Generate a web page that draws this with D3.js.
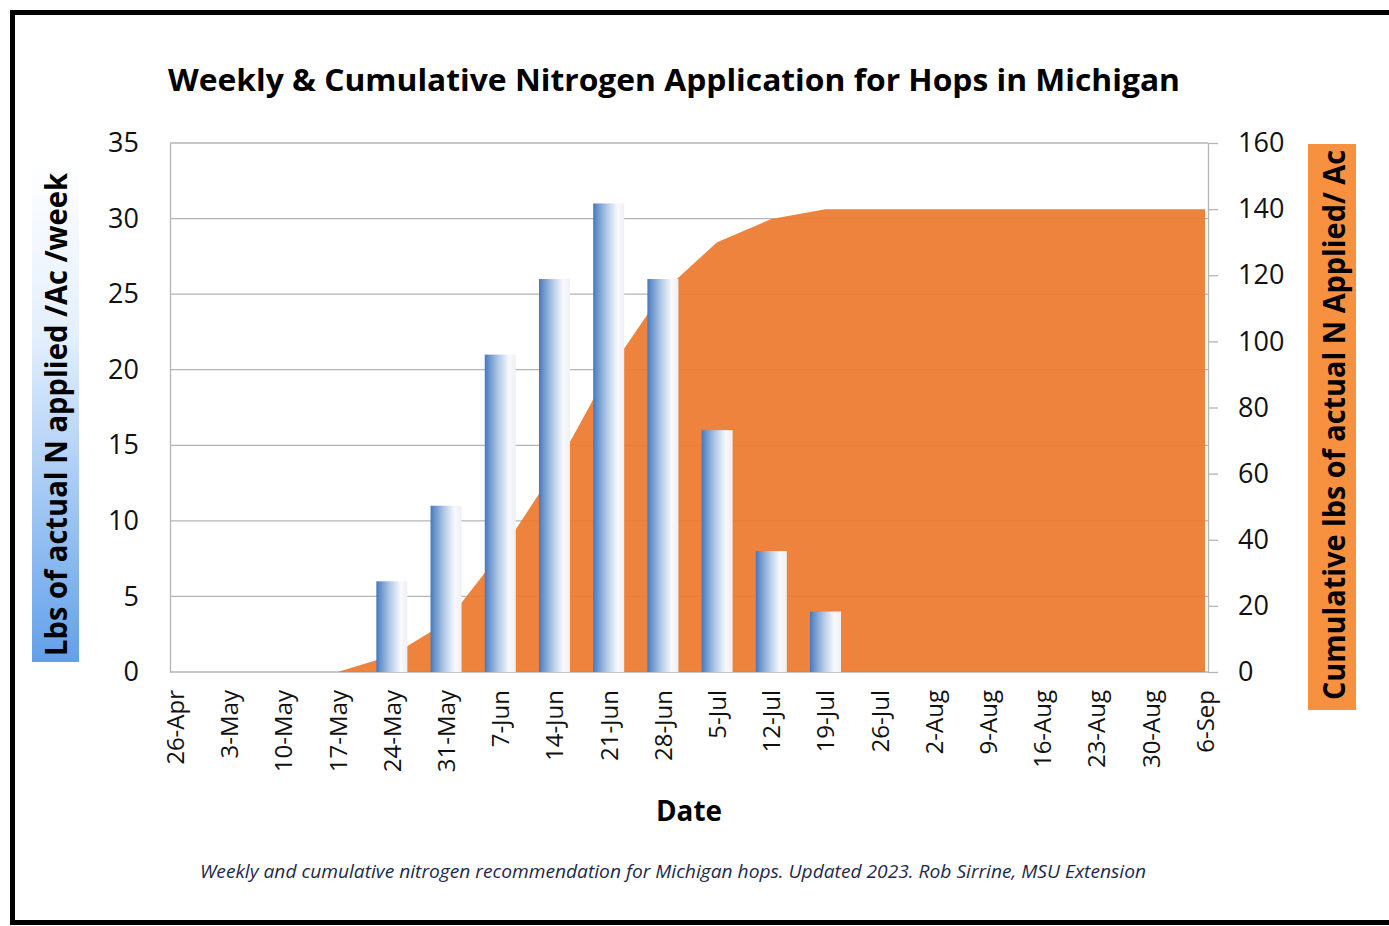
<!DOCTYPE html>
<html>
<head>
<meta charset="utf-8">
<script src="https://cdn.jsdelivr.net/npm/d3@7"></script>
<style>
  body { margin: 0; background: #fff; }
  text { font-family: "Open Sans", "DejaVu Sans", sans-serif; }
</style>
</head>
<body>
<svg id="chart" width="1389" height="926"></svg>
<script>
// weeks on the category axis
const weeks = ['26-Apr', '3-May', '10-May', '17-May', '24-May', '31-May', '7-Jun', '14-Jun',
    '21-Jun', '28-Jun', '5-Jul', '12-Jul', '19-Jul', '26-Jul', '2-Aug', '9-Aug',
    '16-Aug', '23-Aug', '30-Aug', '6-Sep'];
// lbs N / acre / week (bars, left axis)
const weeklyN = [0, 0, 0, 0, 6, 11, 21, 26, 31, 26, 16, 8, 4, 0, 0, 0, 0, 0, 0, 0];
// cumulative lbs N / acre (area, right axis)
const cumulativeN = [0, 0, 0, 0, 5, 15, 36, 61, 91, 115, 130, 137, 140, 140, 140, 140, 140, 140, 140, 140];
const leftTicks = [0, 5, 10, 15, 20, 25, 30, 35];
const rightTicks = [0, 20, 40, 60, 80, 100, 120, 140, 160];

const svg = d3.select('#chart');
const plot = {left: 170, right: 1208, top: 143, bottom: 672};

const x = d3.scalePoint().domain(weeks).range([175, 1205]);
const yL = d3.scaleLinear().domain([0, 35]).range([plot.bottom, plot.top]);
const yR = d3.scaleLinear().domain([0, 160]).range([plot.bottom, plot.top]);
const barW = 31;

// stretch a text to the width it has in the picture
function fit(sel, len) {
    sel.attr('textLength', len).attr('lengthAdjust', 'spacingAndGlyphs');
}

const defs = svg.append('defs');
const barGrad = defs.append('linearGradient').attr('id', 'barGrad')
    .attr('x1', 0).attr('x2', 1).attr('y1', 0).attr('y2', 0);
[[0, '#4677bb'], [0.12, '#6590cb'], [0.45, '#b4cbe8'], [0.78, '#f7f9fd'], [1, '#eef0f3']]
    .forEach(s => barGrad.append('stop').attr('offset', s[0]).attr('stop-color', s[1]));
const leftGrad = defs.append('linearGradient').attr('id', 'leftGrad')
    .attr('x1', 0).attr('x2', 0).attr('y1', 0).attr('y2', 1);
[[0, '#ffffff'], [0.35, '#e3effd'], [1, '#62a0ea']]
    .forEach(s => leftGrad.append('stop').attr('offset', s[0]).attr('stop-color', s[1]));

//Frame round the picture.
svg.append('rect')
    .attr('x', 12.5).attr('y', 12.5).attr('width', 1400).attr('height', 910)
    .attr('fill', 'none').attr('stroke', '#000').attr('stroke-width', 5);

//Gridlines from the left axis.
svg.append('g').selectAll('line')
    .data(leftTicks)
    .join('line')
    .attr('x1', plot.left).attr('x2', plot.right)
    .attr('y1', d => yL(d)).attr('y2', d => yL(d))
    .attr('stroke', '#b5b5b5').attr('stroke-width', 1.3);

//Cumulative area.
const area = d3.area()
    .x((d, i) => x(weeks[i]))
    .y0(yR(0))
    .y1(d => yR(d));
svg.append('path')
    .datum(cumulativeN)
    .attr('d', area)
    .attr('fill', '#ec7a2d')
    .attr('fill-opacity', 0.93);

//Weekly bars.
svg.append('g').selectAll('rect')
    .data(weeks.map((w, i) => ({week: w, value: weeklyN[i]})).filter(d => d.value > 0))
    .join('rect')
    .attr('x', d => x(d.week) - barW / 2)
    .attr('width', barW)
    .attr('y', d => yL(d.value))
    .attr('height', d => yL(0) - yL(d.value))
    .attr('fill', 'url(#barGrad)');

//Axes.
const leftAxis = svg.append('g')
    .attr('transform', `translate(${plot.left},0)`)
    .call(d3.axisLeft(yL).tickValues(leftTicks).tickSize(0).tickSizeOuter(0).tickPadding(31));
const rightAxis = svg.append('g')
    .attr('transform', `translate(${plot.right},0)`)
    .call(d3.axisRight(yR).tickValues(rightTicks).tickSize(10).tickSizeOuter(0).tickPadding(20));
const bottomAxis = svg.append('g')
    .attr('transform', `translate(0,${plot.bottom})`)
    .call(d3.axisBottom(x).tickSize(0).tickSizeOuter(0));
bottomAxis.select('.domain').remove();

[leftAxis, rightAxis].forEach(a => {
    a.select('.domain').attr('stroke', '#b5b5b5').attr('stroke-width', 1.3);
    a.selectAll('.tick line').attr('stroke', '#b5b5b5').attr('stroke-width', 1.3);
    a.selectAll('text').attr('font-size', 27).attr('fill', '#111')
        .style('font-family', '"Open Sans", sans-serif');
});
bottomAxis.selectAll('text')
    .attr('transform', 'rotate(-90)')
    .attr('x', -18).attr('y', 0).attr('dy', '0.35em')
    .attr('text-anchor', 'end')
    .attr('font-size', 24).attr('fill', '#111')
    .style('font-family', '"Open Sans", sans-serif');

//Titles.
svg.append('text')
    .attr('x', 674).attr('y', 91)
    .attr('text-anchor', 'middle')
    .attr('font-size', 31).attr('font-weight', 'bold').attr('fill', '#000')
    .text('Weekly & Cumulative Nitrogen Application for Hops in Michigan')
    .call(fit, 1012);

svg.append('text')
    .attr('x', 689).attr('y', 821)
    .attr('text-anchor', 'middle')
    .attr('font-size', 29).attr('font-weight', 'bold').attr('fill', '#000')
    .text('Date')
    .call(fit, 66);

svg.append('text')
    .attr('x', 673).attr('y', 878)
    .attr('text-anchor', 'middle')
    .attr('font-size', 19).attr('font-style', 'italic').attr('fill', '#1c2a4a')
    .text('Weekly and cumulative nitrogen recommendation for Michigan hops. Updated 2023. Rob Sirrine, MSU Extension')
    .call(fit, 946);

//Left axis title on its blue box.
svg.append('rect')
    .attr('x', 32).attr('y', 162).attr('width', 47).attr('height', 500)
    .attr('fill', 'url(#leftGrad)');
svg.append('text')
    .attr('transform', 'translate(67,414.5) rotate(-90)')
    .attr('text-anchor', 'middle')
    .attr('font-size', 30).attr('font-weight', 'bold').attr('fill', '#000')
    .text('Lbs of actual N applied /Ac /week')
    .call(fit, 483);

//Right axis title on its orange box.
svg.append('rect')
    .attr('x', 1308).attr('y', 144).attr('width', 48).attr('height', 566)
    .attr('fill', '#f8913f');
svg.append('text')
    .attr('transform', 'translate(1345,425) rotate(-90)')
    .attr('text-anchor', 'middle')
    .attr('font-size', 30).attr('font-weight', 'bold').attr('fill', '#000')
    .text('Cumulative lbs of actual N Applied/ Ac')
    .call(fit, 550);
</script>
</body>
</html>
